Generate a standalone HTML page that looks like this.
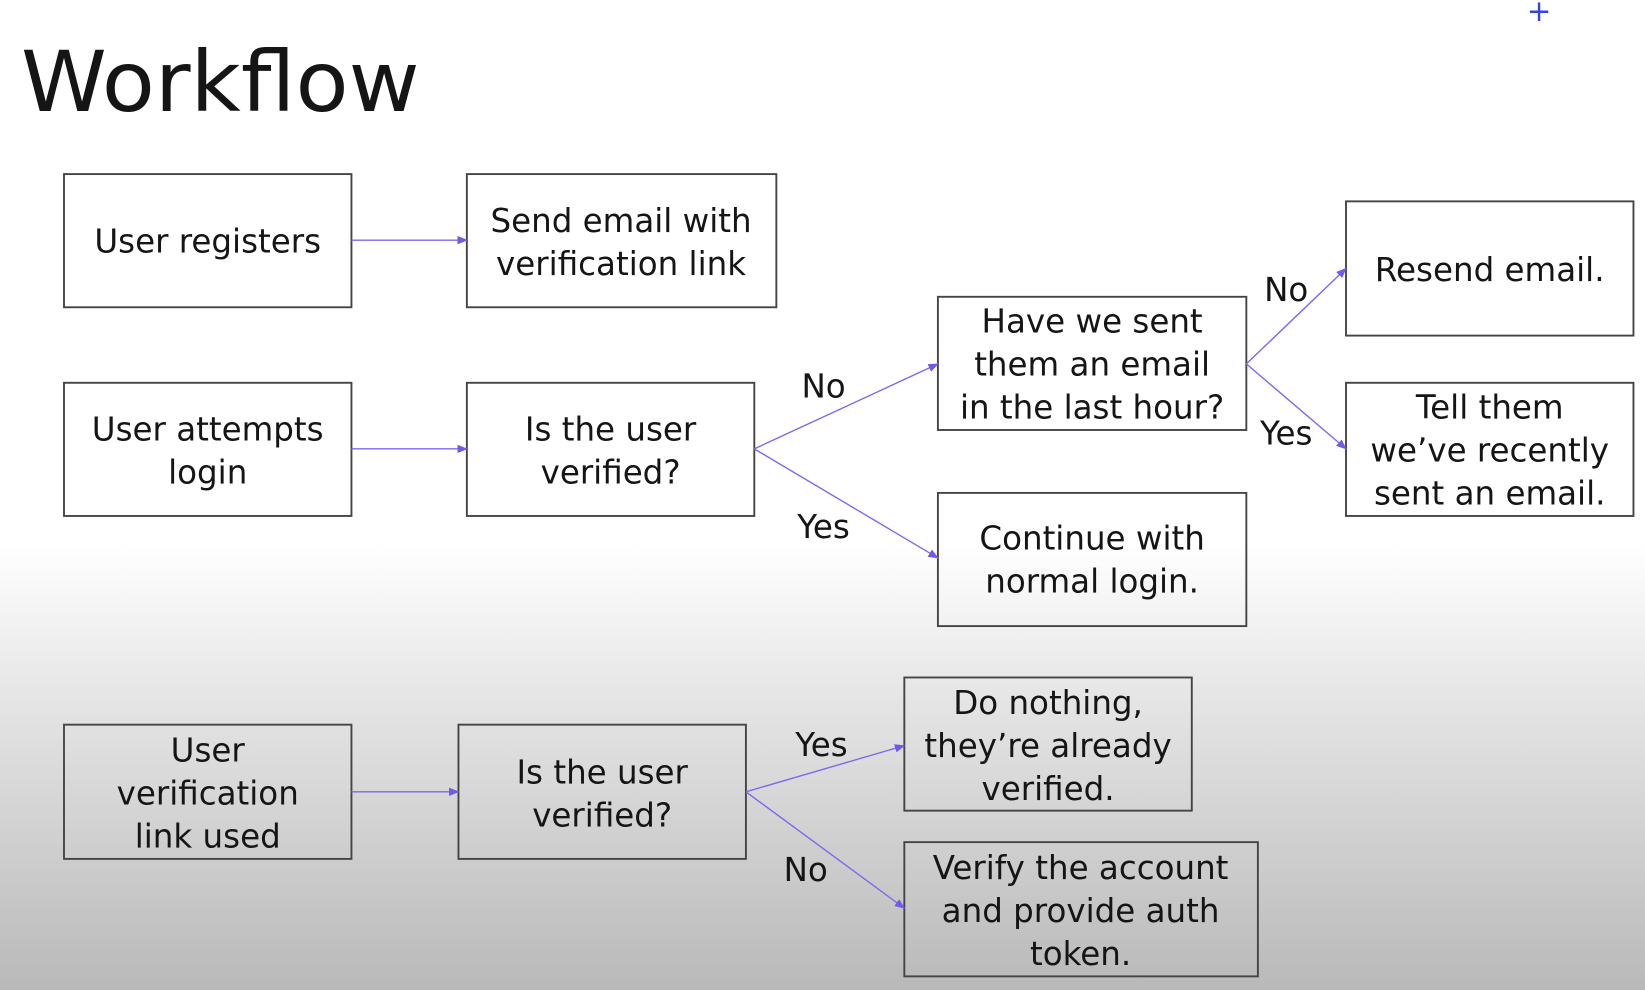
<!DOCTYPE html>
<html><head><meta charset="utf-8"><style>
html,body{margin:0;padding:0;width:1645px;height:990px;overflow:hidden}
svg{display:block}
text{font-family:"DejaVu Sans","Liberation Sans",sans-serif;fill:#151515}
</style></head><body>
<svg width="1645" height="990" viewBox="0 0 1568 944" preserveAspectRatio="none" xmlns="http://www.w3.org/2000/svg">
<defs>
<linearGradient id="bg" x1="0" y1="0" x2="0" y2="1">
<stop offset="0" stop-color="#ffffff"/>
<stop offset="0.55" stop-color="#ffffff"/>
<stop offset="0.7" stop-color="#e6e6e6"/>
<stop offset="1" stop-color="#b9b9b9"/>
</linearGradient>
<marker id="a" markerWidth="10" markerHeight="8" refX="9" refY="4" orient="auto" markerUnits="userSpaceOnUse">
<path d="M0,0 L10,4 L0,8 z" fill="#6f5be8"/>
</marker>
</defs>
<rect width="1568" height="944" fill="url(#bg)"/>
<text x="20" y="106" font-size="80" textLength="380" lengthAdjust="spacingAndGlyphs">Workflow</text>
<text x="1467" y="20" font-size="28" style="fill:#3344dd" text-anchor="middle">+</text>
<g fill="none" stroke="#444" stroke-width="1.8">
<rect x="61" y="166" width="274" height="127"/>
<rect x="445" y="166" width="295" height="127"/>
<rect x="61" y="365" width="274" height="127"/>
<rect x="445" y="365" width="274" height="127"/>
<rect x="894" y="283" width="294" height="127"/>
<rect x="1283" y="192" width="274" height="128"/>
<rect x="1283" y="365" width="274" height="127"/>
<rect x="894" y="470" width="294" height="127"/>
<rect x="61" y="691" width="274" height="128"/>
<rect x="437" y="691" width="274" height="128"/>
<rect x="862" y="646" width="274" height="127"/>
<rect x="862" y="803" width="337" height="128"/>
</g>
<g stroke="#7b68ee" stroke-width="1.3" marker-end="url(#a)">
<line x1="335" y1="229" x2="445" y2="229"/>
<line x1="335" y1="428" x2="445" y2="428"/>
<line x1="719" y1="428" x2="894" y2="347"/>
<line x1="719" y1="428" x2="894" y2="532"/>
<line x1="1188" y1="347" x2="1283" y2="256"/>
<line x1="1188" y1="347" x2="1283" y2="428"/>
<line x1="335" y1="755" x2="437" y2="755"/>
<line x1="711" y1="755" x2="862" y2="711"/>
<line x1="711" y1="755" x2="862" y2="866"/>
</g>
<g font-size="31" text-anchor="middle">
<text x="198" y="241">User registers</text>
<text x="592" y="221">Send email with</text>
<text x="592" y="262">verification link</text>
<text x="198" y="420">User attempts</text>
<text x="198" y="461">login</text>
<text x="582" y="420">Is the user</text>
<text x="582" y="461">verified?</text>
<text x="1041" y="317">Have we sent</text>
<text x="1041" y="358">them an email</text>
<text x="1041" y="399">in the last hour?</text>
<text x="1420" y="268">Resend email.</text>
<text x="1420" y="399">Tell them</text>
<text x="1420" y="440">we’ve recently</text>
<text x="1420" y="481">sent an email.</text>
<text x="1041" y="524">Continue with</text>
<text x="1041" y="565">normal login.</text>
<text x="198" y="726">User</text>
<text x="198" y="767">verification</text>
<text x="198" y="808">link used</text>
<text x="574" y="747">Is the user</text>
<text x="574" y="788">verified?</text>
<text x="999" y="681">Do nothing,</text>
<text x="999" y="722">they’re already</text>
<text x="999" y="763">verified.</text>
<text x="1030" y="838">Verify the account</text>
<text x="1030" y="879">and provide auth</text>
<text x="1030" y="920">token.</text>
<text x="785" y="379">No</text>
<text x="785" y="513">Yes</text>
<text x="1226" y="287">No</text>
<text x="1226" y="424">Yes</text>
<text x="783" y="721">Yes</text>
<text x="768" y="840">No</text>
</g>
</svg>
</body></html>
